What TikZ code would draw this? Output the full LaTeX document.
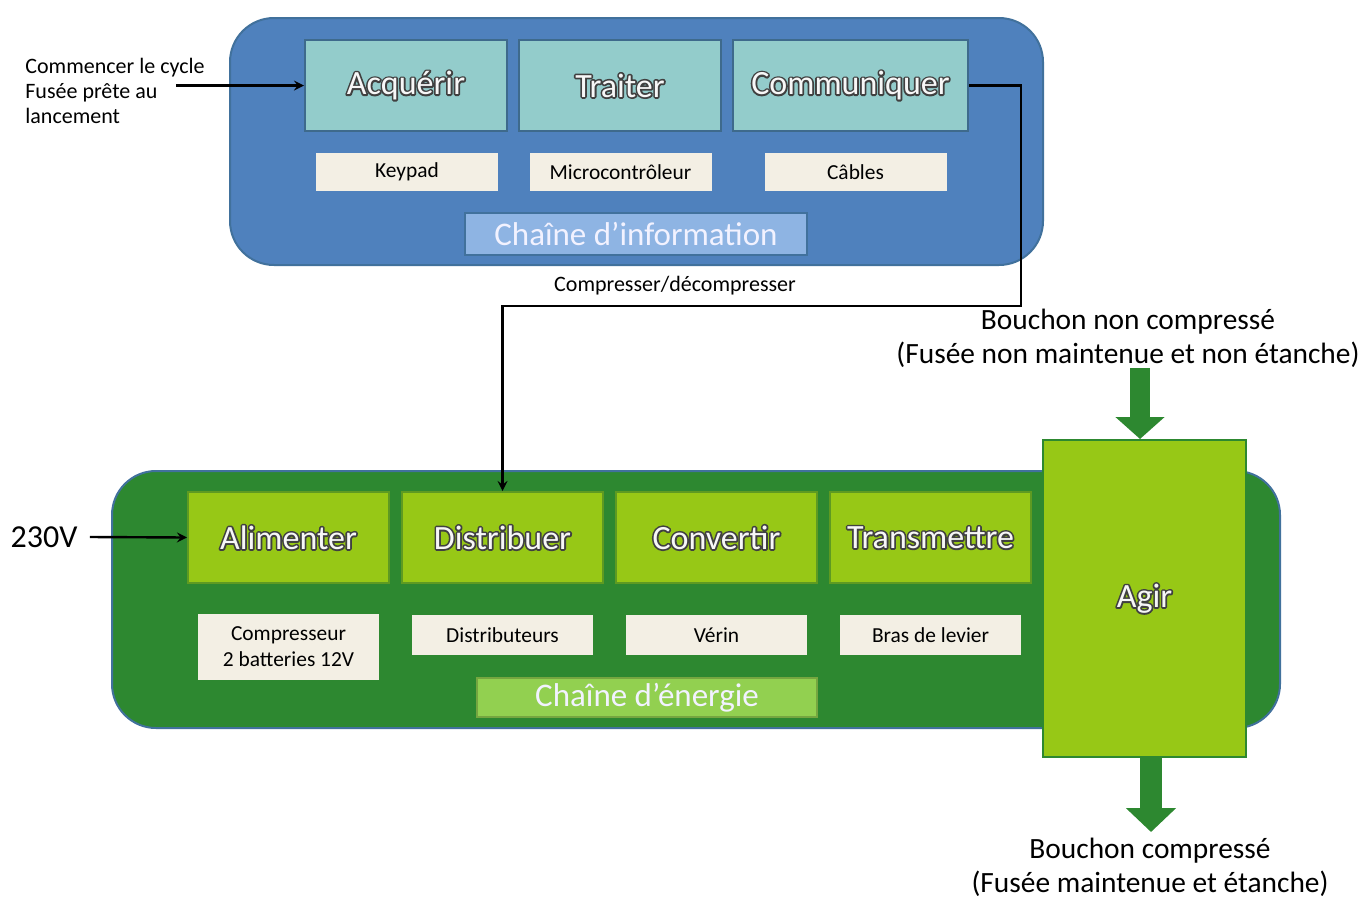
\documentclass[tikz,border=0pt]{standalone}
\usepackage{fontspec}
\setmainfont{Carlito}
\usetikzlibrary{arrows.meta}

\definecolor{infobleu}{HTML}{4F81BD}
\definecolor{infobord}{HTML}{41719C}
\definecolor{infofonc}{HTML}{93CCCB}
\definecolor{infofoncbord}{HTML}{3E6A8C}
\definecolor{infotitre}{HTML}{8EB4E3}
\definecolor{creme}{HTML}{F3EFE4}
\definecolor{energvert}{HTML}{2D8830}
\definecolor{energfonc}{HTML}{97C816}
\definecolor{energfoncbord}{HTML}{5E9A22}
\definecolor{energtitre}{HTML}{92D050}

% texte avec contour fonce : trace epais dessous, texte clair dessus
\newcommand{\contourtxt}[1]{{%
  \makebox[0pt][l]{\color{black!75}%
    \special{pdf:literal direct 0.25 0.25 0.25 RG 1.7 w 1 j 2 Tr}#1%
    \special{pdf:literal direct 0 Tr}}%
  \textcolor{white!94!gray}{#1}}}

\begin{document}
\begin{tikzpicture}[x=0.5pt, y=-0.5pt]
\useasboundingbox (0,0) rectangle (1360,905);
\begin{scope}
	\tikzstyle{every node}=[inner sep=0pt, align=center]
	\tikzstyle{chaine}=[rounded corners=22pt, line width=1pt, minimum width=406.5pt, minimum height=123.5pt]
	\tikzstyle{fonction}=[line width=1pt, minimum width=101pt, minimum height=45.5pt, font=\fontsize{17}{20}\selectfont]
	\tikzstyle{support}=[fill=creme, minimum width=91pt, minimum height=19pt, font=\fontsize{10.7}{13}\selectfont]
	\tikzstyle{titre}=[line width=1pt, minimum width=171pt, minimum height=21pt, text=white!95!blue, font=\fontsize{16.5}{19}\selectfont]
	\tikzstyle{texte}=[font=\fontsize{11}{12.5}\selectfont]
	\tikzstyle{grand}=[font=\fontsize{14.7}{17}\selectfont]

	% chaine d'information
	\node[chaine, fill=infobleu, draw=infobord] (info) at (636.5,141.5) {};
	\node[fonction, fill=infofonc, draw=infofoncbord] (acq) at (406,85.5) {\contourtxt{Acquérir}};
	\node[fonction, fill=infofonc, draw=infofoncbord] (trait) at (620,85.5) {\contourtxt{Traiter}};
	\node[fonction, fill=infofonc, draw=infofoncbord, minimum width=117.5pt] (comm) at (850.5,85.5) {\contourtxt{Communiquer}};
	\node[support] (keypad) at (407,172) {Keypad};
	\node[support] (micro) at (620.5,172) {Microcontrôleur};
	\node[support] (cables) at (855.5,172) {Câbles};
	\node[titre, fill=infotitre, draw=infobord] (tinfo) at (636,234) {Chaîne d’information};

	% chaine d'energie
	\node[chaine, fill=energvert, draw=infobord, minimum width=584pt, minimum height=128.5pt] (energ) at (696,599.5) {};
	\node[fonction, fill=energfonc, draw=energfoncbord, minimum width=100.5pt] (alim) at (288.5,537.5) {\contourtxt{Alimenter}};
	\node[fonction, fill=energfonc, draw=energfoncbord, minimum width=100.5pt] (dist) at (502.5,537.5) {\contourtxt{Distribuer}};
	\node[fonction, fill=energfonc, draw=energfoncbord, minimum width=100.5pt] (conv) at (716.5,537.5) {\contourtxt{Convertir}};
	\node[fonction, fill=energfonc, draw=energfoncbord, minimum width=100.5pt] (trans) at (930.5,537.5) {\contourtxt{Transmettre}};
	\node[support, minimum width=90.5pt, minimum height=33pt] (compr) at (288.5,647) {Compresseur\\2 batteries 12V};
	\node[support, minimum width=90.5pt, minimum height=20pt] (distr) at (502.5,635) {Distributeurs};
	\node[support, minimum width=90.5pt, minimum height=20pt] (verin) at (716.5,635) {Vérin};
	\node[support, minimum width=90.5pt, minimum height=20pt] (bras) at (930.5,635) {Bras de levier};
	\node[titre, fill=energtitre, draw=energtitre!80!black, minimum width=170pt, minimum height=19.5pt] (tenerg) at (647,697.5) {Chaîne d’énergie};
	\node[fonction, fill=energfonc, draw=energvert, minimum width=101.5pt, minimum height=158.5pt] (agir) at (1144.5,598.5) {\contourtxt{Agir}};

	% textes
	\node[texte, align=left, anchor=west] (cycle) at (25,91) {Commencer le cycle\\Fusée prête au\\lancement};
	\node[texte] (compdec) at (675,286) {Compresser/décompresser};
	\node[font=\fontsize{16}{19}\selectfont, inner sep=6pt] (v230) at (44,537) {230V};
	\node[grand] (bnc) at (1128,338) {Bouchon non compressé\\(Fusée non maintenue et non étanche)};
	\node[grand] (bc) at (1150,867) {Bouchon compressé\\(Fusée maintenue et étanche)};
	\coordinate (depart) at (176,85.5);
	\coordinate (entree) at (1140,368);
	\coordinate (sortie) at (1151,832);

	\draw [line width=1.2pt][-stealth] (depart) -- (acq.west);
	\draw [line width=1.2pt][-stealth] (v230.east) -- (alim.west);
	\draw [line width=1.2pt][-stealth] (comm.east) -| (1021,306) -| (dist.north);

	\draw [line width=10pt, energvert][-{Triangle[width=24pt, length=11pt]}] (entree) -- (entree |- agir.north);
	\draw [line width=11pt, energvert][-{Triangle[width=24.5pt, length=12pt]}] (sortie |- agir.south) -- (sortie);
\end{scope}
\end{tikzpicture}
\end{document}
